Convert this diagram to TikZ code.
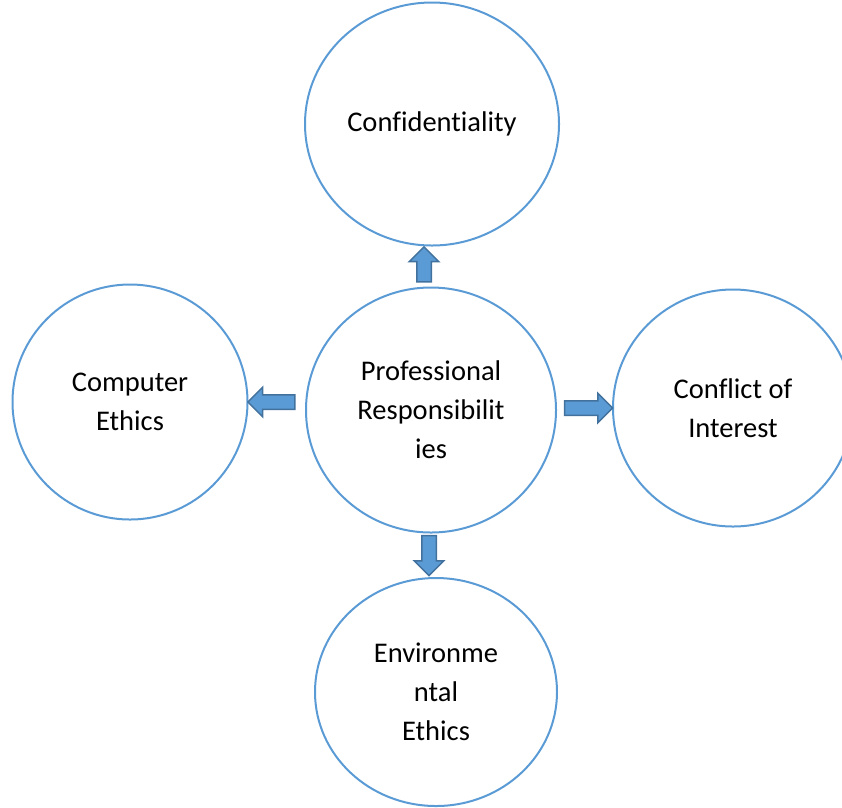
\documentclass[tikz,border=0pt]{standalone}
\usepackage{fontspec}
\setmainfont[Ligatures=NoCommon]{Carlito}
\usetikzlibrary{positioning}
\usetikzlibrary{shapes.geometric}
\usetikzlibrary{shapes.arrows}
\definecolor{topicline}{HTML}{5B9BD5}
\definecolor{arrowfill}{HTML}{5B9BD5}
\definecolor{arrowline}{HTML}{41719C}

\begin{document}
\begin{tikzpicture}
[x=1pt,y=-1pt,
 topic/.style={shape=ellipse,draw=topicline,line width=2pt,align=center,
   inner sep=0pt,font=\fontsize{28.5}{39}\selectfont},
 blockarrow/.style={shape=single arrow,draw=arrowline,fill=arrowfill,
   line width=1.5pt,inner sep=0pt,inner ysep=6.5pt,
   single arrow head extend=7.5pt,minimum height=#1},
 blockarrow/.default=40pt]

\useasboundingbox (0,0) rectangle (842,807);

\draw (431,410) node (prof) [topic,minimum width=250pt,minimum height=245pt]
	{Professional\\Responsibilit\\ies};

\draw (432,124) node (conf) [topic,minimum width=254pt,minimum height=243pt]
	{Confidentiality};

\draw (130,402) node (comp) [topic,minimum width=235pt,minimum height=235pt]
	{Computer\\Ethics};

\draw (733,408) node (cint) [topic,minimum width=240pt,minimum height=237pt]
	{Conflict of\\Interest};

\draw (436,692) node (envi) [topic,minimum width=242pt,minimum height=228pt]
	{Environme\\ntal\\Ethics};

% block arrows between the topics
\draw (424,268) node (toconf) [blockarrow=35pt,rotate=90] {};
\draw (275,402) node (tocomp) [blockarrow=47pt,rotate=180] {};
\draw (585,408) node (tocint) [blockarrow=48pt] {};
\draw (429,552) node (toenvi) [blockarrow=40pt,rotate=-90] {};

\end{tikzpicture}
\end{document}
